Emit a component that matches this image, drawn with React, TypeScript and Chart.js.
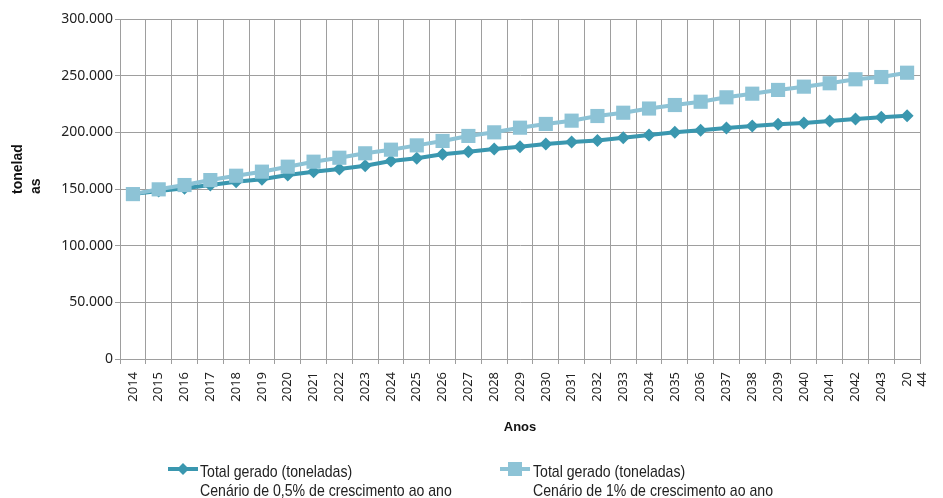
import React, { useEffect, useRef } from 'react';
import { Chart, registerables } from 'chart.js';

Chart.register(...registerables);

// ---- data ----
const years: number[] = [
  2014, 2015, 2016, 2017, 2018, 2019, 2020, 2021, 2022, 2023,
  2024, 2025, 2026, 2027, 2028, 2029, 2030, 2031, 2032, 2033,
  2034, 2035, 2036, 2037, 2038, 2039, 2040, 2041, 2042, 2043, 2044,
];

const xTickLabels: (string | string[])[] = [
  '2014', '2015', '2016', '2017', '2018', '2019', '2020', '2021', '2022', '2023',
  '2024', '2025', '2026', '2027', '2028', '2029', '2030', '2031', '2032', '2033',
  '2034', '2035', '2036', '2037', '2038', '2039', '2040', '2041', '2042', '2043',
  ['20', '44'],
];

// Cenário de 0,5% de crescimento ao ano (toneladas)
const scenarioHalfPercent: number[] = [
  145600, 148200, 150600, 153500, 156400, 158600, 162400, 165300, 167600, 170600,
  174700, 177100, 180600, 182900, 185300, 187300, 189700, 191500, 192800, 195300,
  197600, 200000, 201800, 203800, 205600, 207100, 208200, 210000, 211800, 213300, 214700,
];

// Cenário de 1% de crescimento ao ano (toneladas)
const scenarioOnePercent: number[] = [
  145500, 149700, 153500, 157900, 161700, 165300, 169700, 174100, 177600, 181500,
  184700, 188500, 192400, 196800, 200000, 204100, 207400, 210300, 214400, 217300,
  221000, 224100, 227000, 230900, 234100, 237400, 240300, 243300, 246800, 248800, 252600,
];

const yMin = 0;
const yMax = 300000;
const yStep = 50000;

const yAxisTitleLines: string[] = ['tonelad', 'as'];
const xAxisTitle = 'Anos';
const legendTitle = 'Total gerado (toneladas)';
const seriesNames: string[] = [
  'Cenário de 0,5% de crescimento ao ano',
  'Cenário de 1% de crescimento ao ano',
];

const DARK = 'rgb(58,151,175)';
const LIGHT = 'rgb(141,195,214)';
const GRID = '#9e9e9e';

const formatThousands = (v: number) =>
  String(Math.round(v)).replace(/\B(?=(\d{3})+(?!\d))/g, '.');

const yTitlePlugin = {
  id: 'yTitleManual',
  afterDraw(chart: any) {
    const ctx = chart.ctx as CanvasRenderingContext2D;
    ctx.save();
    ctx.font = 'bold 14px "Liberation Sans", Arial, sans-serif';
    ctx.fillStyle = '#111';
    ctx.textAlign = 'left';
    ctx.textBaseline = 'alphabetic';
    yAxisTitleLines.forEach((line, i) => {
      ctx.save();
      ctx.translate(22 + i * 18, 194);
      ctx.rotate(-Math.PI / 2);
      ctx.fillText(line, 0, 0);
      ctx.restore();
    });
    ctx.restore();
  },
};

export default function App() {
  const canvasRef = useRef<HTMLCanvasElement | null>(null);

  useEffect(() => {
    if (!canvasRef.current) return;
    const chart = new Chart(canvasRef.current, {
      type: 'line',
      data: {
        labels: years.map(String),
        datasets: [
          {
            label: seriesNames[0],
            data: scenarioHalfPercent,
            borderColor: DARK,
            backgroundColor: DARK,
            borderWidth: 4,
            pointStyle: 'rectRot',
            pointRadius: 6.5,
            pointBorderWidth: 0,
            pointBackgroundColor: DARK,
            tension: 0,
            order: 1,
          },
          {
            label: seriesNames[1],
            data: scenarioOnePercent,
            borderColor: LIGHT,
            backgroundColor: LIGHT,
            borderWidth: 4,
            pointStyle: 'rect',
            pointRadius: 10,
            pointBorderWidth: 0,
            pointBackgroundColor: LIGHT,
            tension: 0,
            order: 0,
          },
        ],
      },
      options: {
        responsive: false,
        animation: false,
        layout: { padding: { left: 0, right: 23, top: 19, bottom: 59 } },
        plugins: {
          legend: { display: false },
          tooltip: { enabled: false },
        },
        scales: {
          x: {
            offset: true,
            grid: { offset: true, color: GRID, lineWidth: 1, tickLength: 5 },
            border: { color: GRID },
            ticks: {
              autoSkip: false,
              minRotation: 90,
              maxRotation: 90,
              padding: 8,
              color: '#222',
              font: { family: '"Noto Sans", sans-serif', size: 13 },
              callback: (_v: any, i: number) => xTickLabels[i],
            },
            title: {
              display: true,
              text: xAxisTitle,
              color: '#111',
              font: { family: '"Liberation Sans", Arial, sans-serif', size: 13, weight: 'bold' },
              padding: { top: 0, bottom: 4 },
            },
            afterFit: (s: any) => {
              s.height = 80;
              s.paddingLeft = 0;
              s.paddingRight = 0;
            },
          },
          y: {
            min: yMin,
            max: yMax,
            grid: { color: GRID, lineWidth: 1, tickLength: 5 },
            border: { color: GRID },
            ticks: {
              stepSize: yStep,
              padding: 2,
              color: '#222',
              font: { family: '"Noto Sans", sans-serif', size: 14 },
              callback: (v: any) => formatThousands(Number(v)),
            },
            afterFit: (s: any) => {
              s.width = 120;
            },
          },
        },
      },
      plugins: [yTitlePlugin],
    } as any);
    return () => chart.destroy();
  }, []);

  const legendFont: React.CSSProperties = {
    position: 'absolute',
    fontFamily: '"Liberation Sans", Arial, sans-serif',
    fontSize: 17,
    lineHeight: '19px',
    color: '#222',
    whiteSpace: 'nowrap',
    transform: 'scaleX(0.83)',
    transformOrigin: '0 0',
  };

  return (
    <div style={{ position: 'fixed', left: 0, top: 0, width: 943, height: 498, background: '#fff' }}>
      <canvas ref={canvasRef} width={943} height={498} style={{ display: 'block', width: 943, height: 498 }} />
      <svg style={{ position: 'absolute', left: 166, top: 461 }} width={34} height={16}>
        <line x1={2} y1={8} x2={32} y2={8} stroke={DARK} strokeWidth={4} />
        <polygon points="17,2 23,8 17,14 11,8" fill={DARK} />
      </svg>
      <div style={{ ...legendFont, left: 200, top: 462 }}>
        {legendTitle}
        <br />
        {seriesNames[0]}
      </div>
      <svg style={{ position: 'absolute', left: 498, top: 461 }} width={34} height={16}>
        <line x1={2} y1={8} x2={32} y2={8} stroke={LIGHT} strokeWidth={4} />
        <rect x={10} y={1} width={14} height={14} fill={LIGHT} />
      </svg>
      <div style={{ ...legendFont, left: 533, top: 462 }}>
        {legendTitle}
        <br />
        {seriesNames[1]}
      </div>
    </div>
  );
}
